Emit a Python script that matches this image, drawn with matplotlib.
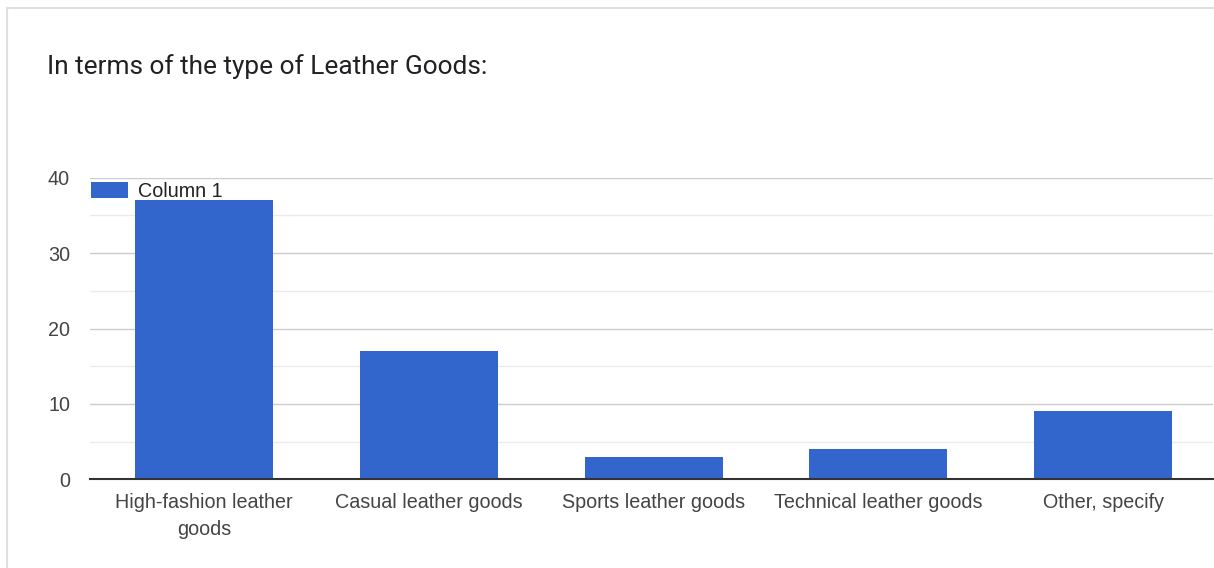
import matplotlib
matplotlib.use("Agg")
import matplotlib.pyplot as plt
import matplotlib.patches as mpatches
import numpy as np

# data
categories = [
    "High-fashion leather\ngoods",
    "Casual leather goods",
    "Sports leather goods",
    "Technical leather goods",
    "Other, specify",
]
counts = [37, 17, 3, 4, 9]
series_name = "Column 1"
y_ticks = [0, 10, 20, 30, 40]
title = "In terms of the type of Leather Goods:"

BAR_COLOR = "#3366cc"
TEXT_COLOR = "#444444"
FS = 14.2

W, H = 1214, 568
fig = plt.figure(figsize=(W / 100, H / 100), dpi=100)
fig.patch.set_facecolor("white")

# light card border (left + top, the rest is cropped)
fig.add_artist(mpatches.Rectangle(
    (7 / W, -0.1), 1.2, 1 - 8 / H + 0.1,
    transform=fig.transFigure, fill=False,
    edgecolor="#e0e0e0", linewidth=1.5))

fig.text(47 / W, 1 - 67 / H, title, fontsize=18.9, family="Roboto",
         color="#202124", ha="left", va="center")

# plot area
left, right = 90, 1213
bottom, top = 479.3, 177.7
ax = fig.add_axes([left / W, 1 - bottom / H, (right - left) / W, (bottom - top) / H])

x = np.arange(len(categories))
ax.bar(x, counts, width=0.614, color=BAR_COLOR, label=series_name, zorder=3)

# category step is ~224.8 px, first center at ~204 px
xmin = -0.507
ax.set_xlim(xmin, xmin + (right - left) / 224.8)
ax.set_ylim(0, 40)
ax.set_yticks(y_ticks)
ax.set_yticks([5, 15, 25, 35], minor=True)
ax.set_yticklabels([str(v) for v in y_ticks])
ax.set_xticks(x)
ax.set_xticklabels(categories, linespacing=1.55)

ax.grid(axis="y", which="major", color="#cccccc", linewidth=1, zorder=0)
ax.grid(axis="y", which="minor", color="#ebebeb", linewidth=1, zorder=0)
ax.set_axisbelow(True)

for s in ["left", "right", "top"]:
    ax.spines[s].set_visible(False)
ax.spines["bottom"].set_color("#333333")
ax.spines["bottom"].set_linewidth(1.5)
ax.spines["bottom"].set_zorder(4)

ax.tick_params(axis="y", which="both", length=0, pad=14.4, labelsize=FS,
               labelcolor=TEXT_COLOR)
ax.tick_params(axis="x", length=0, pad=10, labelsize=FS, labelcolor=TEXT_COLOR)
for lbl in ax.get_xticklabels() + ax.get_yticklabels():
    lbl.set_family("Liberation Sans")

leg = ax.legend(loc="upper left", bbox_to_anchor=(0.001, 0.985), frameon=False,
                borderaxespad=0, borderpad=0, handlelength=1.88, handleheight=0.86,
                handletextpad=0.5, prop={"family": "Liberation Sans", "size": FS})
for t in leg.get_texts():
    t.set_color("#222222")

fig.savefig("out.png", dpi=100, facecolor="white")
